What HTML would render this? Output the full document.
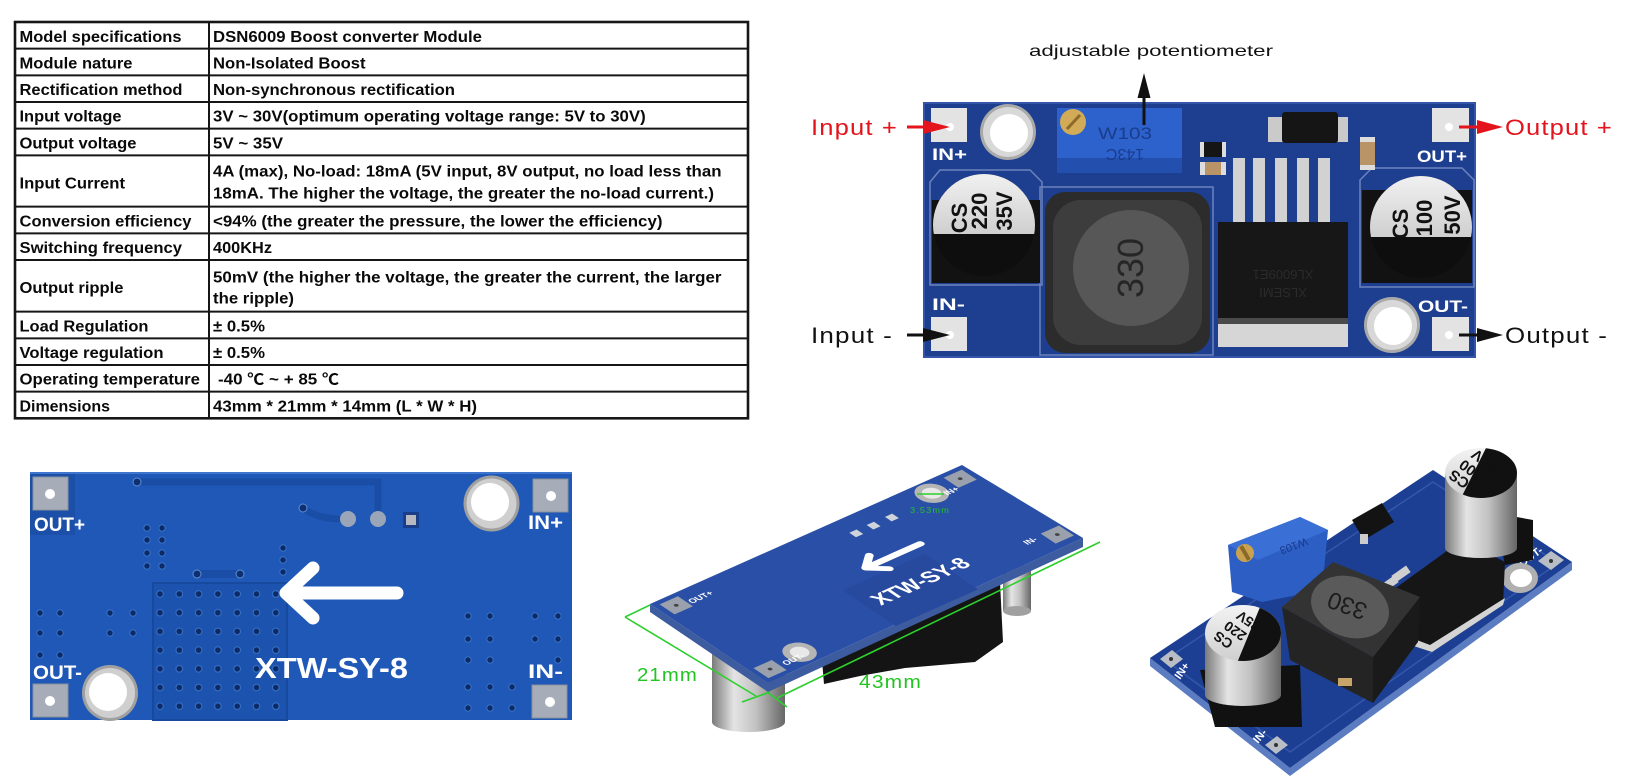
<!DOCTYPE html>
<html><head><meta charset="utf-8"><title>DSN6009 Boost converter Module</title>
<style>html,body{margin:0;padding:0;background:#fff;width:1631px;height:778px;overflow:hidden}svg{display:block}</style>
</head><body>
<svg xmlns="http://www.w3.org/2000/svg" width="1631" height="778" viewBox="0 0 1631 778" font-family="'Liberation Sans','Noto Sans CJK SC',sans-serif">
<defs>
<linearGradient id="sv" x1="0" y1="0" x2="1" y2="0">
<stop offset="0" stop-color="#7a7a7a"/><stop offset="0.3" stop-color="#e4e4e4"/><stop offset="0.6" stop-color="#c2c2c2"/><stop offset="1" stop-color="#666"/>
</linearGradient>
<linearGradient id="ct" x1="0" y1="0" x2="0" y2="1">
<stop offset="0" stop-color="#f3f3f3"/><stop offset="1" stop-color="#cfcfcf"/>
</linearGradient>
<pattern id="viaP" patternUnits="userSpaceOnUse" x="150.35" y="584.65" width="19.3" height="18.7">
<rect width="19.3" height="18.7" fill="#1c53ae"/><circle cx="9.65" cy="9.35" r="3.3" fill="#0c2a66" stroke="#3a72c8" stroke-width="1"/>
</pattern>
<clipPath id="c1"><circle cx="984" cy="225" r="51"/></clipPath>
<clipPath id="c2"><circle cx="1421" cy="227" r="51"/></clipPath>
<clipPath id="c3"><ellipse cx="1481" cy="473" rx="36" ry="25"/></clipPath>
<clipPath id="c4"><ellipse cx="1243" cy="633" rx="38" ry="28"/></clipPath>
</defs>

<!-- ================= TABLE ================= -->
<g fill="none" stroke="#161616">
<rect x="15" y="22" width="733" height="396.3" stroke-width="2.6"/>
<g stroke-width="2">
<line x1="209" y1="22" x2="209" y2="418.3"/>
<line x1="15" y1="48.67" x2="748" y2="48.67"/>
<line x1="15" y1="75.33" x2="748" y2="75.33"/>
<line x1="15" y1="102" x2="748" y2="102"/>
<line x1="15" y1="128.67" x2="748" y2="128.67"/>
<line x1="15" y1="155.33" x2="748" y2="155.33"/>
<line x1="15" y1="206.67" x2="748" y2="206.67"/>
<line x1="15" y1="233.33" x2="748" y2="233.33"/>
<line x1="15" y1="260" x2="748" y2="260"/>
<line x1="15" y1="311.67" x2="748" y2="311.67"/>
<line x1="15" y1="338.33" x2="748" y2="338.33"/>
<line x1="15" y1="365" x2="748" y2="365"/>
<line x1="15" y1="391.67" x2="748" y2="391.67"/>
</g>
</g>
<g font-size="15.5" font-weight="bold" fill="#0a0a0a" lengthAdjust="spacingAndGlyphs">
<text x="19.5" y="42" textLength="162" lengthAdjust="spacingAndGlyphs">Model specifications</text>
<text x="19.5" y="68.5" textLength="113" lengthAdjust="spacingAndGlyphs">Module nature</text>
<text x="19.5" y="95" textLength="163" lengthAdjust="spacingAndGlyphs">Rectification method</text>
<text x="19.5" y="121.7" textLength="102" lengthAdjust="spacingAndGlyphs">Input voltage</text>
<text x="19.5" y="148.3" textLength="117" lengthAdjust="spacingAndGlyphs">Output voltage</text>
<text x="19.5" y="188.3" textLength="105.5" lengthAdjust="spacingAndGlyphs">Input Current</text>
<text x="19.5" y="226.3" textLength="172" lengthAdjust="spacingAndGlyphs">Conversion efficiency</text>
<text x="19.5" y="253" textLength="162.5" lengthAdjust="spacingAndGlyphs">Switching frequency</text>
<text x="19.5" y="293" textLength="104" lengthAdjust="spacingAndGlyphs">Output ripple</text>
<text x="19.5" y="331.5" textLength="129" lengthAdjust="spacingAndGlyphs">Load Regulation</text>
<text x="19.5" y="358" textLength="144" lengthAdjust="spacingAndGlyphs">Voltage regulation</text>
<text x="19.5" y="384.7" textLength="180.5" lengthAdjust="spacingAndGlyphs">Operating temperature</text>
<text x="19.5" y="411.5" textLength="90.5" lengthAdjust="spacingAndGlyphs">Dimensions</text>

<text x="213" y="42" textLength="269" lengthAdjust="spacingAndGlyphs">DSN6009 Boost converter Module</text>
<text x="213" y="68.5" textLength="152.6" lengthAdjust="spacingAndGlyphs">Non-Isolated Boost</text>
<text x="213" y="95" textLength="242" lengthAdjust="spacingAndGlyphs">Non-synchronous rectification</text>
<text x="213" y="121.7" textLength="432.7" lengthAdjust="spacingAndGlyphs">3V ~ 30V(optimum operating voltage range: 5V to 30V)</text>
<text x="213" y="148.3" textLength="70" lengthAdjust="spacingAndGlyphs">5V ~ 35V</text>
<text x="213" y="176.7" textLength="508.5" lengthAdjust="spacingAndGlyphs">4A (max), No-load: 18mA (5V input, 8V output, no load less than</text>
<text x="213" y="198.5" textLength="501" lengthAdjust="spacingAndGlyphs">18mA. The higher the voltage, the greater the no-load current.)</text>
<text x="213" y="226.3" textLength="449.5" lengthAdjust="spacingAndGlyphs">&lt;94% (the greater the pressure, the lower the efficiency)</text>
<text x="213" y="253" textLength="59" lengthAdjust="spacingAndGlyphs">400KHz</text>
<text x="213" y="282.5" textLength="508.5" lengthAdjust="spacingAndGlyphs">50mV (the higher the voltage, the greater the current, the larger</text>
<text x="213" y="303.5" textLength="81" lengthAdjust="spacingAndGlyphs">the ripple)</text>
<text x="213" y="331.5" textLength="52" lengthAdjust="spacingAndGlyphs">± 0.5%</text>
<text x="213" y="358" textLength="52" lengthAdjust="spacingAndGlyphs">± 0.5%</text>
<text x="218" y="384.7" textLength="121" lengthAdjust="spacingAndGlyphs">-40 ℃ ~ + 85 ℃</text>
<text x="213" y="411.5" textLength="264" lengthAdjust="spacingAndGlyphs">43mm * 21mm * 14mm (L * W * H)</text>
</g>

<!-- ================= TOP RIGHT PCB ================= -->
<g>
<rect x="924" y="103" width="551" height="254" fill="#1e3e90"/>
<rect x="924" y="103" width="551" height="254" fill="none" stroke="#3556a8" stroke-width="2"/>
<!-- silkscreen outlines -->
<g fill="none" stroke="#7f95c8" stroke-width="1.5" opacity="0.8">
<path d="M940 170 L1030 170 L1042 182 L1042 285 L930 285 L930 182 Z"/>
<rect x="1040" y="187" width="173" height="168"/>
<path d="M1372 168 L1462 168 L1474 180 L1474 287 L1360 287 L1360 180 Z"/>
</g>
<!-- pads -->
<g fill="#e3e3e3">
<rect x="931" y="108" width="36" height="34"/>
<rect x="931" y="317" width="36" height="34"/>
<rect x="1432" y="108" width="37" height="34"/>
<rect x="1432" y="317" width="37" height="34"/>
</g>
<g fill="#fff"><circle cx="950" cy="127" r="4"/><circle cx="950" cy="335" r="4"/><circle cx="1449" cy="127" r="4"/><circle cx="1449" cy="335" r="4"/></g>
<g font-weight="bold" font-size="17" fill="#fff">
<text x="932" y="160" textLength="35" lengthAdjust="spacingAndGlyphs">IN+</text>
<text x="932" y="310" textLength="33" lengthAdjust="spacingAndGlyphs">IN-</text>
<text x="1417" y="162" textLength="50" lengthAdjust="spacingAndGlyphs">OUT+</text>
<text x="1418" y="312" textLength="50" lengthAdjust="spacingAndGlyphs">OUT-</text>
</g>
<!-- mounting holes -->
<circle cx="1008" cy="132" r="28" fill="#a9a9a9"/><circle cx="1008" cy="132" r="25" fill="#d8d8d8"/><circle cx="1009" cy="133" r="19" fill="#fff"/>
<circle cx="1392" cy="325" r="28" fill="#a9a9a9"/><circle cx="1392" cy="325" r="25" fill="#d8d8d8"/><circle cx="1393" cy="326" r="19" fill="#fff"/>
<!-- potentiometer -->
<rect x="1057" y="108" width="125" height="65" fill="#2d62cc"/>
<rect x="1057" y="158" width="125" height="15" fill="#234fae"/>
<circle cx="1073" cy="122" r="13" fill="#d1ab58"/>
<line x1="1067" y1="129" x2="1080" y2="115" stroke="#8c6a28" stroke-width="3"/>
<text x="1098" y="139" font-size="17" fill="#1a3c8e" textLength="54" lengthAdjust="spacingAndGlyphs">W103</text>
<text x="1125" y="161" font-size="16" fill="#1a3c8e" text-anchor="middle" transform="rotate(180 1125 155)">143C</text>
<!-- small smd -->
<rect x="1200" y="142" width="26" height="15" fill="#151515"/><rect x="1200" y="142" width="4" height="15" fill="#ddd"/><rect x="1222" y="142" width="4" height="15" fill="#ddd"/>
<rect x="1200" y="162" width="26" height="13" fill="#b89466"/><rect x="1200" y="162" width="5" height="13" fill="#ddd"/><rect x="1221" y="162" width="5" height="13" fill="#ddd"/>
<rect x="1360" y="137" width="15" height="33" fill="#b89466"/><rect x="1360" y="137" width="15" height="5" fill="#ddd"/><rect x="1360" y="165" width="15" height="5" fill="#ddd"/>
<!-- diode -->
<rect x="1268" y="117" width="80" height="25" fill="#cacaca"/>
<rect x="1282" y="112" width="56" height="31" rx="3" fill="#151515"/>
<!-- chip -->
<g fill="#d2d2d2">
<rect x="1233" y="158" width="12" height="66"/><rect x="1253" y="158" width="12" height="66"/><rect x="1275" y="158" width="12" height="66"/><rect x="1297" y="158" width="12" height="66"/><rect x="1318" y="158" width="12" height="66"/>
</g>
<rect x="1218" y="222" width="130" height="100" fill="#171717"/>
<rect x="1218" y="318" width="130" height="29" fill="#d6d6d6"/>
<rect x="1218" y="318" width="130" height="6" fill="#4a4a4a"/>
<text x="1283" y="262" font-size="13" fill="#2b2b2b" text-anchor="middle" transform="rotate(180 1283 275)">XLSEMI</text>
<text x="1283" y="280" font-size="13" fill="#2b2b2b" text-anchor="middle" transform="rotate(180 1283 275)">XL6009E1</text>
<!-- inductor -->
<rect x="1045" y="192" width="165" height="161" rx="20" fill="#2c2c2c"/>
<rect x="1053" y="200" width="149" height="145" rx="28" fill="#3d3d3d"/>
<circle cx="1131" cy="268" r="58" fill="#575757"/>
<text font-size="36" fill="#262626" text-anchor="middle" transform="translate(1143 268) rotate(-90)">330</text>
<!-- left cap -->
<path d="M932 200 L1040 200 L1040 283 L932 283 Z" fill="#121212"/>
<circle cx="984" cy="225" r="51" fill="#0e0e0e"/>
<rect x="930" y="170" width="110" height="64" fill="url(#ct)" clip-path="url(#c1)"/>
<g font-weight="bold" font-size="22" fill="#111" text-anchor="middle">
<text transform="translate(967 218) rotate(-90)">CS</text>
<text transform="translate(987 211) rotate(-90)">220</text>
<text transform="translate(1012 211) rotate(-90)">35V</text>
</g>
<!-- right cap -->
<path d="M1362 190 L1472 190 L1472 283 L1362 283 Z" fill="#121212"/>
<circle cx="1421" cy="227" r="51" fill="#0e0e0e"/>
<rect x="1365" y="172" width="112" height="65" fill="url(#ct)" clip-path="url(#c2)"/>
<g font-weight="bold" font-size="22" fill="#111" text-anchor="middle">
<text transform="translate(1408 224) rotate(-90)">CS</text>
<text transform="translate(1432 218) rotate(-90)">100</text>
<text transform="translate(1460 215) rotate(-90)">50V</text>
</g>
</g>
<!-- annotations -->
<g font-size="22" letter-spacing="1">
<text x="811" y="135" fill="#e3141c" textLength="87" lengthAdjust="spacingAndGlyphs">Input +</text>
<text x="811" y="343" fill="#111" textLength="82" lengthAdjust="spacingAndGlyphs">Input -</text>
<text x="1505" y="135" fill="#e3141c" textLength="108" lengthAdjust="spacingAndGlyphs">Output +</text>
<text x="1505" y="343" fill="#111" textLength="103" lengthAdjust="spacingAndGlyphs">Output -</text>
</g>
<text x="1029" y="56" font-size="16" fill="#111" textLength="244" lengthAdjust="spacingAndGlyphs">adjustable potentiometer</text>
<g>
<line x1="907" y1="127" x2="926" y2="127" stroke="#e3141c" stroke-width="3"/>
<polygon points="923,120 950,127 923,134" fill="#e3141c"/>
<line x1="907" y1="335" x2="926" y2="335" stroke="#111" stroke-width="3"/>
<polygon points="923,328 950,335 923,342" fill="#111"/>
<line x1="1459" y1="127" x2="1480" y2="127" stroke="#e3141c" stroke-width="3"/>
<polygon points="1477,120 1503,127 1477,134" fill="#e3141c"/>
<line x1="1459" y1="335" x2="1480" y2="335" stroke="#111" stroke-width="3"/>
<polygon points="1477,328 1503,335 1477,342" fill="#111"/>
<line x1="1144" y1="96" x2="1144" y2="125" stroke="#111" stroke-width="3"/>
<polygon points="1137.5,98 1144,73 1150.5,98" fill="#111"/>
</g>

<!-- ================= BOTTOM LEFT PCB (back) ================= -->
<g>
<rect x="30" y="472" width="542" height="248" fill="#1f58b6"/>
<rect x="30" y="472" width="45" height="63" fill="#1b4fa8"/>
<rect x="30" y="472" width="542" height="2" fill="#3f75cc"/>
<!-- trace -->
<path d="M137 482 L378 482 L378 520" stroke="#1a4ea6" stroke-width="7" fill="none"/>
<path d="M303 508 Q318 520 348 519" stroke="#1a4ea6" stroke-width="7" fill="none"/>
<circle cx="137" cy="482" r="4" fill="#0e2f70" stroke="#5d8fd6"/>
<circle cx="303" cy="508" r="4" fill="#0e2f70" stroke="#5d8fd6"/>
<circle cx="348" cy="519" r="8" fill="#9aa6b8"/>
<circle cx="378" cy="519" r="8" fill="#9aa6b8"/>
<rect x="403" y="512" width="16" height="16" fill="#1a3f88"/><rect x="406" y="515" width="10" height="10" fill="#b8b8c0"/>
<!-- via grid -->
<rect x="153" y="583" width="134" height="137" fill="url(#viaP)" stroke="#174a9e" stroke-width="2"/>
<path d="M197 574 L240 574" stroke="#1a4ea6" stroke-width="8"/>
<circle cx="197" cy="574" r="4" fill="#0e2f70" stroke="#5d8fd6"/>
<circle cx="240" cy="574" r="4" fill="#0e2f70" stroke="#5d8fd6"/>
<g fill="#0c2a66" stroke="#3a72c8" stroke-width="1">
<circle cx="147" cy="528" r="3.2"/><circle cx="162" cy="528" r="3.2"/><circle cx="147" cy="540" r="3.2"/><circle cx="162" cy="540" r="3.2"/>
<circle cx="147" cy="553" r="3.2"/><circle cx="162" cy="553" r="3.2"/><circle cx="147" cy="566" r="3.2"/><circle cx="162" cy="566" r="3.2"/>
<circle cx="283" cy="548" r="3.2"/><circle cx="283" cy="560" r="3.2"/><circle cx="283" cy="572" r="3.2"/>
<circle cx="40" cy="613" r="3.2"/><circle cx="60" cy="613" r="3.2"/><circle cx="40" cy="633" r="3.2"/><circle cx="60" cy="633" r="3.2"/><circle cx="40" cy="655" r="3.2"/><circle cx="60" cy="655" r="3.2"/>
<circle cx="110" cy="613" r="3.2"/><circle cx="133" cy="613" r="3.2"/><circle cx="110" cy="633" r="3.2"/><circle cx="133" cy="633" r="3.2"/>
<circle cx="468" cy="616" r="3.2"/><circle cx="490" cy="616" r="3.2"/><circle cx="535" cy="616" r="3.2"/><circle cx="558" cy="616" r="3.2"/>
<circle cx="468" cy="639" r="3.2"/><circle cx="490" cy="639" r="3.2"/><circle cx="535" cy="639" r="3.2"/><circle cx="558" cy="639" r="3.2"/>
<circle cx="468" cy="660" r="3.2"/><circle cx="490" cy="660" r="3.2"/><circle cx="558" cy="660" r="3.2"/>
<circle cx="468" cy="687" r="3.2"/><circle cx="490" cy="687" r="3.2"/><circle cx="512" cy="687" r="3.2"/>
<circle cx="468" cy="708" r="3.2"/><circle cx="490" cy="708" r="3.2"/><circle cx="512" cy="708" r="3.2"/>
</g>
<!-- pads -->
<g fill="#a7adb8" stroke="#8a909c" stroke-width="1">
<rect x="33" y="477" width="35" height="33"/>
<rect x="33" y="684" width="35" height="33"/>
<rect x="533" y="479" width="35" height="33"/>
<rect x="532" y="685" width="35" height="33"/>
</g>
<g fill="#fff"><circle cx="50" cy="494" r="5"/><circle cx="50" cy="701" r="5"/><circle cx="551" cy="496" r="5"/><circle cx="550" cy="702" r="5"/></g>
<!-- holes -->
<circle cx="491.5" cy="503.5" r="28" fill="#a0a0a0"/><circle cx="491.5" cy="503.5" r="25" fill="#cfcfcf"/><circle cx="490" cy="502" r="19" fill="#fff"/>
<circle cx="110" cy="693" r="28" fill="#a0a0a0"/><circle cx="110" cy="693" r="25" fill="#cfcfcf"/><circle cx="108" cy="692" r="19" fill="#fff"/>
<!-- labels -->
<g font-weight="bold" font-size="19" fill="#fff">
<text x="34" y="531" textLength="51" lengthAdjust="spacingAndGlyphs">OUT+</text>
<text x="33" y="679" textLength="49" lengthAdjust="spacingAndGlyphs">OUT-</text>
<text x="528" y="529" textLength="35" lengthAdjust="spacingAndGlyphs">IN+</text>
<text x="528" y="678" textLength="35" lengthAdjust="spacingAndGlyphs">IN-</text>
</g>
<!-- arrow -->
<g stroke="#fff" stroke-width="13" stroke-linecap="round" stroke-linejoin="round" fill="none">
<line x1="290" y1="593" x2="397" y2="593"/>
<polyline points="313,568 286,593 313,618"/>
</g>
<text x="255" y="678" font-size="29" font-weight="bold" fill="#fff" textLength="153" lengthAdjust="spacingAndGlyphs">XTW-SY-8</text>
</g>

<!-- ================= BOTTOM MIDDLE (angled back view) ================= -->
<g>
<polygon points="822,660 1000,582 1003,642 975,662 905,668 860,676 824,684" fill="#141414"/>
<rect x="1003" y="565" width="28" height="46" fill="url(#sv)"/>
<ellipse cx="1017" cy="611" rx="14" ry="5" fill="#a0a0a0"/>
<rect x="712" y="650" width="73" height="72" fill="url(#sv)"/>
<ellipse cx="748.5" cy="722" rx="36.5" ry="10" fill="url(#sv)"/>
<polygon points="650,604 768,683 1083,538 1083,547 768,692 650,612" fill="#3d5b9f"/>
<polygon points="650,604 962,465 1083,538 768,683" fill="#2a4fa6"/>
<g transform="matrix(0.913,-0.407,0.831,0.556,650,604)">
<rect x="140" y="78" width="90" height="64" fill="#284a9e"/>
<g fill="#9aa0ac"><rect x="6" y="5" width="20" height="18"/><rect x="317" y="5" width="20" height="18"/><rect x="5" y="119" width="20" height="18"/><rect x="326" y="112" width="20" height="18"/></g>
<g fill="#444"><circle cx="16" cy="14" r="2"/><circle cx="327" cy="14" r="2"/><circle cx="15" cy="128" r="2"/><circle cx="336" cy="121" r="2"/></g>
<circle cx="294" cy="16" r="14" fill="#b5b5b5"/><circle cx="294" cy="16" r="8" fill="#e8e8e8"/>
<circle cx="51" cy="124" r="14" fill="#b5b5b5"/><circle cx="51" cy="124" r="8" fill="#e8e8e8"/>
<g fill="#cfd3da"><rect x="201" y="19" width="8" height="8"/><rect x="220" y="19" width="8" height="8"/><rect x="240" y="19" width="8" height="8"/></g>
<g stroke="#fff" stroke-width="7" stroke-linecap="round" stroke-linejoin="round" fill="none">
<line x1="178" y1="65" x2="237" y2="65"/>
<polyline points="192,53 177,65 192,77"/>
</g>
<text x="150" y="113" font-size="22" font-weight="bold" fill="#fff" textLength="100" lengthAdjust="spacingAndGlyphs">XTW-SY-8</text>
<g font-size="9" font-weight="bold" fill="#fff">
<text x="28" y="20">OUT+</text><text x="29" y="132">OUT-</text><text x="302" y="26">IN+</text><text x="306" y="118">IN-</text>
</g>
</g>
<!-- dimension lines -->
<g stroke="#2ccf2c" stroke-width="1.6" fill="none">
<line x1="625" y1="617" x2="756" y2="696"/>
<line x1="625" y1="617" x2="650" y2="605"/>
<line x1="742" y1="702" x2="770" y2="692"/>
<line x1="777" y1="698" x2="1100" y2="542"/>
<line x1="767" y1="692" x2="787" y2="707"/>
<line x1="917" y1="494" x2="944" y2="494"/>
</g>
<g fill="#22c422" letter-spacing="1">
<text x="637" y="681" font-size="18" textLength="61" lengthAdjust="spacingAndGlyphs">21mm</text>
<text x="859" y="688" font-size="18" textLength="63" lengthAdjust="spacingAndGlyphs">43mm</text>
<text x="910" y="513" font-size="8" textLength="40" lengthAdjust="spacingAndGlyphs">3.53mm</text>
</g>
</g>

<!-- ================= BOTTOM RIGHT (3D front view) ================= -->
<g>
<polygon points="1150,658 1290,768 1572,562 1572,570 1290,776 1150,666" fill="#5b7cc0"/>
<polygon points="1150,658 1433,470 1572,562 1290,768" fill="#1c3f93"/>
<polygon points="1165,660 1433,482 1558,563 1290,752" fill="none" stroke="#3557aa" stroke-width="1.5"/>
<!-- pads -->
<g fill="#b9bdc6">
<polygon points="1160,659 1172,650 1183,659 1171,668"/>
<polygon points="1265,745 1277,736 1288,745 1276,754"/>
<polygon points="1538,561 1551,551 1564,560 1551,570"/>
</g>
<g fill="#333"><circle cx="1171" cy="659" r="2"/><circle cx="1276" cy="745" r="2"/><circle cx="1551" cy="561" r="2"/></g>
<g font-size="11" font-weight="bold" fill="#fff">
<text transform="translate(1180 680) rotate(-55)">IN+</text>
<text transform="translate(1258 744) rotate(-50)">IN-</text>
<text transform="translate(1522 567) rotate(-35)">OUT-</text>
</g>
<!-- hole -->
<ellipse cx="1520" cy="578" rx="18" ry="15" fill="#b0b0b0"/><ellipse cx="1521" cy="578" rx="11" ry="9" fill="#fff"/>
<!-- diode -->
<polygon points="1352,520 1382,503 1394,522 1364,540" fill="#131313"/>
<rect x="1360" y="534" width="8" height="10" fill="#ccc"/>
<!-- pot -->
<polygon points="1228,545 1300,517 1328,530 1322,590 1262,602 1232,592" fill="#2d5ec4"/>
<polygon points="1228,545 1300,517 1328,530 1258,560" fill="#3a6fd6"/>
<circle cx="1245" cy="553" r="9" fill="#caa14f"/>
<rect x="1243" y="545" width="4" height="16" fill="#8a6a28" transform="rotate(-30 1245 553)"/>
<text x="1270" y="560" font-size="11" fill="#183a8a" transform="rotate(160 1290 552)">W103</text>
<!-- chip -->
<polygon points="1390,592 1462,540 1505,562 1503,605 1432,652 1395,640" fill="#161616"/>
<polygon points="1395,640 1432,652 1503,605 1505,598 1430,645 1398,633" fill="#d4d4d4"/>
<g fill="#cfcfcf"><rect x="1380" y="580" width="18" height="8" transform="rotate(-35 1389 584)"/><rect x="1392" y="570" width="18" height="8" transform="rotate(-35 1401 574)"/></g>
<!-- tall cap -->
<path d="M1495 513 L1533 520 L1533 560 L1505 565 Z" fill="#111"/>
<rect x="1445" y="473" width="72" height="75" fill="url(#sv)"/>
<ellipse cx="1481" cy="548" rx="36" ry="10" fill="url(#sv)"/>
<ellipse cx="1481" cy="473" rx="36" ry="25" fill="url(#ct)"/>
<polygon points="1490,440 1530,440 1530,510 1455,510" fill="#111" clip-path="url(#c3)"/>
<g font-size="15" font-weight="bold" fill="#111" text-anchor="middle">
<text transform="translate(1462 475) rotate(-145)">CS</text>
<text transform="translate(1474 466) rotate(-145)">100</text>
<text transform="translate(1487 456) rotate(-145)">50V</text>
</g>
<!-- inductor -->
<polygon points="1282,607 1373,657 1373,703 1290,660" fill="#242424"/>
<polygon points="1373,657 1420,597 1418,642 1373,703" fill="#1a1a1a"/>
<polygon points="1282,607 1333,562 1420,597 1373,657" fill="#333"/>
<ellipse cx="1350" cy="607" rx="40" ry="30" fill="#5a5a5a" transform="rotate(20 1350 607)"/>
<text font-size="24" fill="#1c1c1c" text-anchor="middle" transform="translate(1350 598) rotate(200)">330</text>
<rect x="1338" y="678" width="14" height="8" fill="#c8a46a"/>
<!-- small cap -->
<path d="M1200 670 L1300 665 L1302 727 L1215 727 Z" fill="#111"/>
<rect x="1205" y="633" width="76" height="62" fill="url(#sv)"/>
<ellipse cx="1243" cy="695" rx="38" ry="11" fill="url(#sv)"/>
<ellipse cx="1243" cy="633" rx="38" ry="28" fill="url(#ct)"/>
<polygon points="1265,595 1290,595 1290,680 1230,680" fill="#111" clip-path="url(#c4)"/>
<g font-size="14" font-weight="bold" fill="#111" text-anchor="middle">
<text transform="translate(1226 636) rotate(-145)">CS</text>
<text transform="translate(1238 627) rotate(-145)">220</text>
<text transform="translate(1251 617) rotate(-145)">35V</text>
</g>
</g>
</svg>
</body></html>
